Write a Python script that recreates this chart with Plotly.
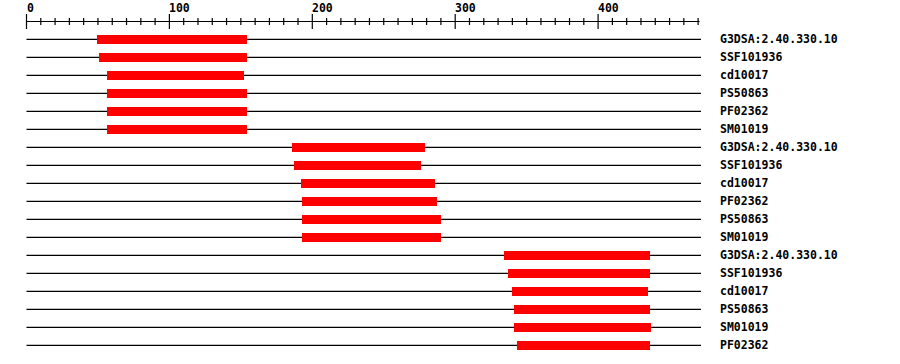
import plotly.graph_objects as go

# ---- data ----
protein_length = 472
labels = ["G3DSA:2.40.330.10", "SSF101936", "cd10017", "PS50863", "PF02362", "SM01019",
          "G3DSA:2.40.330.10", "SSF101936", "cd10017", "PF02362", "PS50863", "SM01019",
          "G3DSA:2.40.330.10", "SSF101936", "cd10017", "PS50863", "SM01019", "PF02362"]
starts = [49, 51, 56, 56, 56, 56,
          186, 187, 192, 193, 193, 193,
          334, 337, 340, 341, 341, 343]
ends = [154, 154, 152, 154, 154, 154,
        279, 276, 286, 287, 290, 290,
        436, 436, 435, 436, 437, 436]
major_ticks = [0, 100, 200, 300, 400]
minor_step = 10

# ---- layout helpers ----
W, H = 900, 364
px_per_unit = 1.429
x0_px = 26.5
xr = [-x0_px / px_per_unit, (W - x0_px) / px_per_unit]
row0, row_gap = 39.3, 18
rows_y = [row0 + row_gap * i for i in range(len(labels))]
axis_y = 21.5
font = dict(family="DejaVu Sans Mono", size=11.5, color="black", weight=700)

fig = go.Figure()
fig.add_trace(go.Bar(
    orientation="h", base=starts, x=[e - s for s, e in zip(starts, ends)], y=rows_y,
    width=9, marker=dict(color="#ff0000", line=dict(width=0)), hoverinfo="skip"))

shapes = []
for y in rows_y:
    shapes.append(dict(type="line", xref="x", yref="y", x0=0, x1=protein_length, y0=y, y1=y,
                       line=dict(color="black", width=1.2), layer="below"))
# ruler
shapes.append(dict(type="line", xref="x", yref="y", x0=0, x1=protein_length - 1, y0=axis_y, y1=axis_y,
                   line=dict(color="black", width=1.2)))
for t in range(0, protein_length, minor_step):
    if t % 100 == 0:
        y0, y1 = 14, 29
    else:
        y0, y1 = 18, 25
    shapes.append(dict(type="line", xref="x", yref="y", x0=t, x1=t, y0=y0, y1=y1,
                       line=dict(color="black", width=1.2)))

annotations = []
for t in major_ticks:
    annotations.append(dict(x=t, y=7.5, xref="x", yref="y", text=str(t), showarrow=False,
                            xanchor="left", yanchor="middle", xshift=-2, font=font))
for lab, y in zip(labels, rows_y):
    annotations.append(dict(x=718 / W, y=y, xref="paper", yref="y", text=lab, showarrow=False,
                            xanchor="left", yanchor="middle", yshift=0, font=font))

fig.update_layout(
    width=W, height=H, margin=dict(l=0, r=0, t=0, b=0),
    paper_bgcolor="white", plot_bgcolor="white", showlegend=False,
    xaxis=dict(range=xr, visible=False, fixedrange=True),
    yaxis=dict(range=[H, 0], visible=False, fixedrange=True),
    shapes=shapes, annotations=annotations, bargap=0,
)
fig.write_html("out.html")
